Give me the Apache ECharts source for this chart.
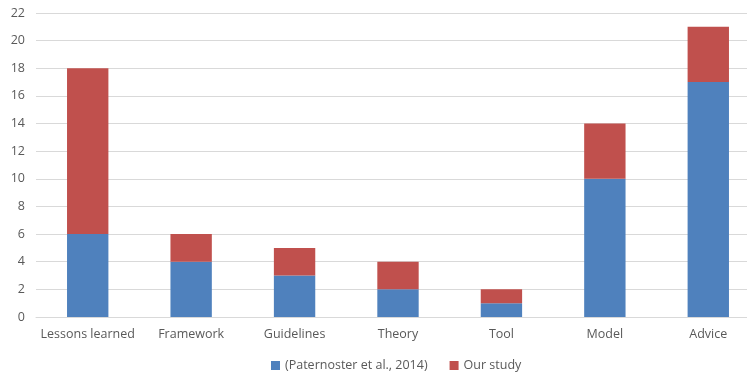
<!DOCTYPE html>
<html>
<head>
<meta charset="utf-8">
<script src="https://cdn.jsdelivr.net/npm/echarts@6/dist/echarts.min.js"></script>
<style>
  html, body { margin: 0; padding: 0; background: #fff; overflow: hidden; }
  #frame { width: 747px; height: 378px; overflow: hidden; }
  /* plot area runs slightly past the right edge of the frame */
  #chart { width: 760px; height: 378px; }
</style>
</head>
<body>
<div id="frame"><div id="chart"></div></div>
<script>
// Contribution types, counted per source
const categories = ['Lessons learned', 'Framework', 'Guidelines', 'Theory', 'Tool', 'Model', 'Advice'];
const paternoster = [6, 4, 3, 2, 1, 10, 17];
const ourStudy = [12, 2, 2, 2, 1, 4, 4];
const yTicks = { min: 0, max: 22, interval: 2 };

const textColor = '#595959';
const font = '"Open Sans", "Liberation Sans", sans-serif';

const chart = echarts.init(document.getElementById('chart'));
chart.setOption({
  animation: false,
  textStyle: { fontFamily: font },
  grid: { left: 36, right: 0, top: 13, bottom: 61 },
  legend: {
    bottom: 1,
    left: 266,
    itemWidth: 9,
    itemHeight: 9,
    itemGap: 22,
    icon: 'rect',
    textStyle: { color: textColor, fontSize: 12.5, fontFamily: font },
    data: ['(Paternoster et al., 2014)', 'Our study']
  },
  xAxis: {
    type: 'category',
    data: categories,
    axisLine: { show: true, lineStyle: { color: '#d9d9d9', width: 1 } },
    axisTick: { show: false },
    axisLabel: { color: textColor, fontSize: 12.5, margin: 11, interval: 0, fontFamily: font }
  },
  yAxis: {
    type: 'value',
    min: yTicks.min,
    max: yTicks.max,
    interval: yTicks.interval,
    axisLine: { show: false },
    axisTick: { show: false },
    axisLabel: { color: textColor, fontSize: 12.5, margin: 11, fontFamily: font },
    splitLine: { lineStyle: { color: '#d9d9d9', width: 1 } }
  },
  series: [
    {
      name: '(Paternoster et al., 2014)',
      type: 'bar',
      stack: 'total',
      barWidth: '40%',
      itemStyle: { color: '#4F81BD' },
      data: paternoster
    },
    {
      name: 'Our study',
      type: 'bar',
      stack: 'total',
      barWidth: '40%',
      itemStyle: { color: '#C0504D' },
      data: ourStudy
    }
  ]
});
</script>
</body>
</html>
